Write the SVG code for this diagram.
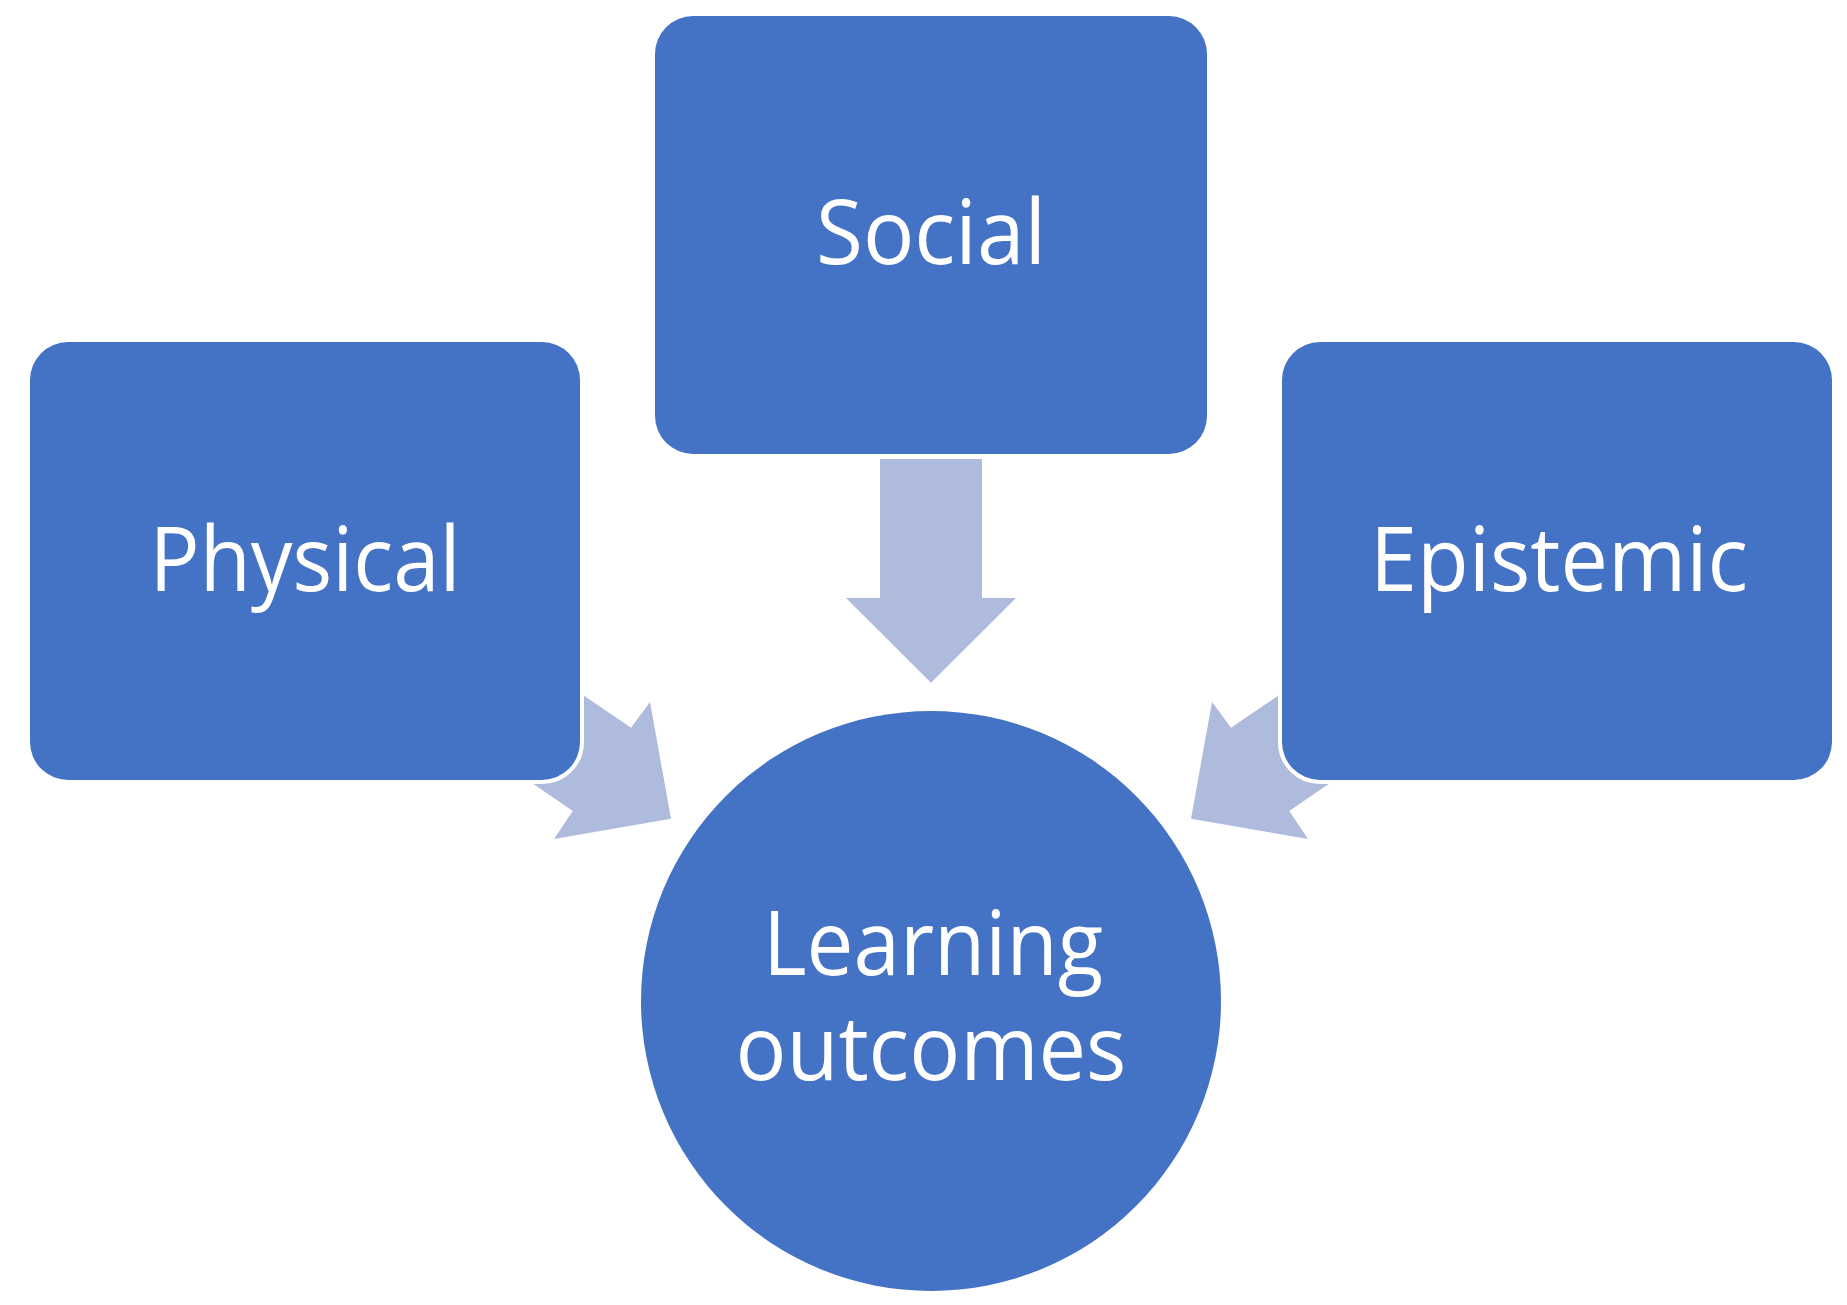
<svg xmlns="http://www.w3.org/2000/svg" width="1847" height="1305" viewBox="0 0 1847 1305">
  <style>
    .node { fill: #4472C4; stroke: #FFFFFF; stroke-width: 8; paint-order: stroke; }
    .arrow { fill: #AFBBDD; stroke: none; }
    .label { font-family: "Open Sans", "Noto Sans", sans-serif; font-size: 89px; fill: #FFFFFF; text-anchor: middle; }
  </style>
  <rect width="1847" height="1305" fill="#FFFFFF"/>
  <g id="connectors">
    <polygon class="arrow" points="880,459 982,459 982,598 1016,598 931,682.7 846,598 880,598"/>
    <polygon class="arrow" points="531,659.6 631,727.7 650,702 671,818.7 554,839 572.7,811 472.7,742.4"/>
    <polygon class="arrow" points="1331,659.6 1231,727.7 1212,702 1191,818.7 1308,839 1289.3,811 1389.3,742.4"/>
  </g>
  <g id="node-social">
    <rect class="node" x="655" y="16" width="552" height="438" rx="38" ry="38"/>
    <text class="label" x="931" y="264" textLength="230" lengthAdjust="spacingAndGlyphs">Social</text>
  </g>
  <g id="node-physical">
    <rect class="node" x="30" y="342" width="550" height="438" rx="38" ry="38"/>
    <text class="label" x="305" y="591" textLength="311" lengthAdjust="spacingAndGlyphs">Physical</text>
  </g>
  <g id="node-epistemic">
    <rect class="node" x="1282" y="342" width="550" height="438" rx="38" ry="38"/>
    <text class="label" x="1559" y="591" textLength="378" lengthAdjust="spacingAndGlyphs">Epistemic</text>
  </g>
  <g id="node-learning-outcomes">
    <circle class="node" cx="931" cy="1001" r="290"/>
    <text class="label" x="933" y="975" textLength="340" lengthAdjust="spacingAndGlyphs">Learning</text>
    <text class="label" x="931" y="1080" textLength="391" lengthAdjust="spacingAndGlyphs">outcomes</text>
  </g>
</svg>
